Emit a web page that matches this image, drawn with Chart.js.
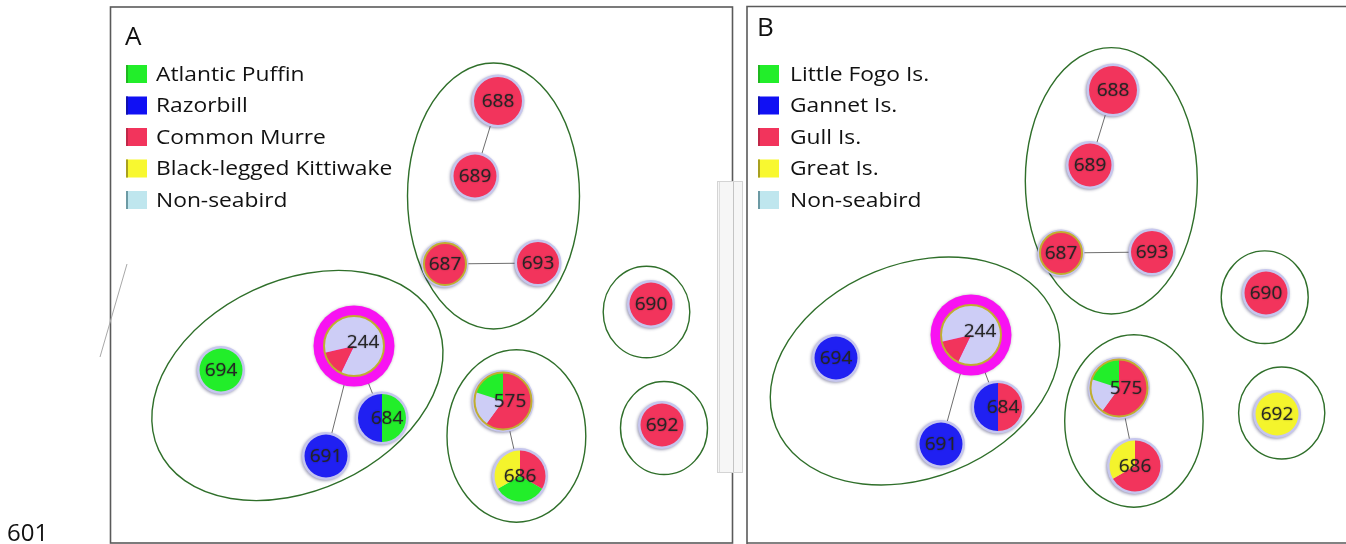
<!DOCTYPE html>
<html>
<head>
<meta charset="utf-8">
<script src="https://cdn.jsdelivr.net/npm/chart.js@4.4.1/dist/chart.umd.min.js"></script>
<style>
html,body{margin:0;padding:0;background:#fff;}
#wrap{width:1346px;height:544px;position:relative;}
canvas{display:block;}
</style>
</head>
<body>
<div id="wrap"><canvas id="c" width="1346" height="544"></canvas></div>
<script>
// ---------------- DATA ----------------
const nodeLabels = ['688','689','687','693','690','692','244','694','684','691','575','686'];
// node layout coordinates, panel A and panel B
const nodeXA = [498, 475, 445, 538, 651, 662, 354, 221, 382, 326, 503, 520];
const nodeYA = [101, 176, 264, 263, 304, 425, 346, 370, 418, 456, 401, 476];
const nodeXB = [1113, 1090, 1061, 1152, 1266, 1277, 971, 836, 998, 941, 1119, 1135];
const nodeYB = [90, 165, 253, 252, 293, 414, 335, 358, 407, 444, 388, 466];
// node size (radius, data units)
const nodeSize = [24, 21.5, 21, 21, 21.5, 21.5, 30, 21.5, 24, 21.5, 28.5, 25.5];

// categories
const speciesA = ['Atlantic Puffin', 'Razorbill', 'Common Murre', 'Black-legged Kittiwake', 'Non-seabird'];
const coloniesB = ['Little Fogo Is.', 'Gannet Is.', 'Gull Is.', 'Great Is.', 'Non-seabird'];

// pie slices per node: [categoryIndex, count], clockwise from 12 o'clock
const slicesA = [
  [[2,1]],                 // 688
  [[2,1]],                 // 689
  [[2,1]],                 // 687
  [[2,1]],                 // 693
  [[2,1]],                 // 690
  [[2,1]],                 // 692
  [[4,4],[2,1],[4,2]],     // 244
  [[0,1]],                 // 694
  [[0,1],[1,1]],           // 684
  [[1,1]],                 // 691
  [[2,3],[4,1],[0,1]],     // 575
  [[2,1],[0,1],[3,1]]      // 686
];
const slicesB = [
  [[2,1]],                 // 688
  [[2,1]],                 // 689
  [[2,1]],                 // 687
  [[2,1]],                 // 693
  [[2,1]],                 // 690
  [[3,1]],                 // 692
  [[4,4],[2,1],[4,2]],     // 244
  [[1,1]],                 // 694
  [[2,1],[1,1]],           // 684
  [[1,1]],                 // 691
  [[2,3],[4,1],[0,1]],     // 575
  [[2,2],[3,1]]            // 686
];
// network links (node index pairs)
const edges = [[0,1],[2,3],[6,9],[6,8],[10,11]];

// cluster ellipses
const clusterCxA = [493.5, 646.5, 664, 297.4, 516.4];
const clusterCyA = [196, 312, 428, 385.5, 436];
const clusterRxA = [86, 43.3, 43.5, 153, 69.4];
const clusterRyA = [133, 45.8, 46.5, 105, 86.2];
const clusterRotA = [0, 0, 0, -25, 0];
const clusterCxB = [1111.3, 1264.7, 1281.7, 915, 1133.9];
const clusterCyB = [180.8, 297.2, 413, 371, 421];
const clusterRxB = [86, 43.5, 43.1, 150, 69.2];
const clusterRyB = [133.2, 46.3, 46, 107, 86.2];
const clusterRotB = [0, 0, 0, -22, 0];

// ---------------- STYLE ----------------
const sliceColors = ['#22ee2a', '#2020f2', '#f2345c', '#f4f42c', '#cdcdf6'];
const legendColors = ['#22ee2a', '#1010f4', '#f2345c', '#f8f830', '#bfe6ee'];
const legendEdge = ['#1fb81f', '#1010b0', '#c02848', '#a8a020', '#6c9aa4'];
const FONT = '"Open Sans", "DejaVu Sans", sans-serif';
const hubNode = '244';
const oliveRim = ['687', '575', '244'];
const labelShift = {'244': [9, -4], '575': [7, 0], '684': [5, 0]};
const legendStretch = 1.14;

const panels = [
  {title:'A', tx:125, ty:45, names:speciesA, lx:126, textX:156, nx:nodeXA, ny:nodeYA, slices:slicesA,
   ecx:clusterCxA, ecy:clusterCyA, erx:clusterRxA, ery:clusterRyA, erot:clusterRotA},
  {title:'B', tx:757, ty:36, names:coloniesB, lx:758, textX:790, nx:nodeXB, ny:nodeYB, slices:slicesB,
   ecx:clusterCxB, ecy:clusterCyB, erx:clusterRxB, ery:clusterRyB, erot:clusterRotB}
];
const legendRowY = [74, 105.5, 137, 168.5, 200];

// edge datasets built from data
const datasets = [];
panels.forEach(p => {
  edges.forEach(e => {
    datasets.push({
      type: 'scatter', showLine: true,
      data: [{x:p.nx[e[0]], y:p.ny[e[0]]}, {x:p.nx[e[1]], y:p.ny[e[1]]}],
      borderColor: '#6e6e6e', borderWidth: 1, pointRadius: 0, pointHoverRadius: 0
    });
  });
});

const networkPlugin = {
  id: 'network',
  beforeDraw(chart) {
    const ctx = chart.ctx;
    ctx.save();
    ctx.fillStyle = '#fff';
    ctx.fillRect(0, 0, chart.width, chart.height);
    // panel frames
    ctx.strokeStyle = '#5a5a5a';
    ctx.lineWidth = 1.6;
    ctx.strokeRect(110.5, 7, 622, 536);
    ctx.beginPath();
    ctx.moveTo(747, 560); ctx.lineTo(747, 6.5); ctx.lineTo(1350, 6.5);
    ctx.moveTo(747, 543); ctx.lineTo(1350, 543);
    ctx.stroke();
    // stray mark left of panel A
    ctx.strokeStyle = '#a8a8a8'; ctx.lineWidth = 1;
    ctx.beginPath(); ctx.moveTo(127, 264); ctx.lineTo(100, 357); ctx.stroke();
    // figure number
    ctx.fillStyle = '#111';
    ctx.font = '24px ' + FONT;
    ctx.textBaseline = 'alphabetic';
    ctx.fillText('601', 7, 541);
    ctx.restore();
  },
  beforeDatasetsDraw(chart) {
    const ctx = chart.ctx, xs = chart.scales.x, ys = chart.scales.y;
    ctx.save();
    ctx.strokeStyle = '#2f6f2a';
    ctx.lineWidth = 1.4;
    panels.forEach(p => {
      p.ecx.forEach((cx, i) => {
        const px = xs.getPixelForValue(cx), py = ys.getPixelForValue(p.ecy[i]);
        const rx = Math.abs(xs.getPixelForValue(cx + p.erx[i]) - px);
        const ry = Math.abs(ys.getPixelForValue(p.ecy[i] + p.ery[i]) - py);
        ctx.beginPath();
        ctx.ellipse(px, py, rx, ry, p.erot[i] * Math.PI / 180, 0, Math.PI * 2);
        ctx.stroke();
      });
    });
    ctx.restore();
  },
  afterDatasetsDraw(chart) {
    const ctx = chart.ctx, xs = chart.scales.x, ys = chart.scales.y;
    panels.forEach(p => {
      nodeLabels.forEach((lab, i) => {
        const cx = xs.getPixelForValue(p.nx[i]), cy = ys.getPixelForValue(p.ny[i]);
        const r = Math.abs(xs.getPixelForValue(p.nx[i] + nodeSize[i]) - cx);
        ctx.save();
        if (lab === hubNode) {
          ctx.shadowColor = 'rgba(0,0,0,0.25)'; ctx.shadowBlur = 3;
          ctx.beginPath(); ctx.arc(cx, cy, r + 10.5, 0, Math.PI * 2);
          ctx.fillStyle = '#f812f2'; ctx.fill();
          ctx.shadowColor = 'transparent';
        } else {
          ctx.shadowColor = 'rgba(40,40,90,0.45)'; ctx.shadowBlur = 3;
          ctx.shadowOffsetX = -1; ctx.shadowOffsetY = 1;
          ctx.beginPath(); ctx.arc(cx, cy, r + 2.5, 0, Math.PI * 2);
          ctx.fillStyle = '#c6c6ee'; ctx.fill();
          ctx.shadowColor = 'transparent';
        }
        ctx.restore();
        // pie slices
        const sl = p.slices[i];
        const total = sl.reduce((s, v) => s + v[1], 0);
        let a = -Math.PI / 2;
        sl.forEach(s => {
          const a2 = a + s[1] / total * Math.PI * 2;
          ctx.beginPath();
          ctx.moveTo(cx, cy);
          ctx.arc(cx, cy, r, a, a2);
          ctx.closePath();
          ctx.fillStyle = sliceColors[s[0]];
          ctx.fill();
          a = a2;
        });
        if (oliveRim.includes(lab)) {
          ctx.beginPath(); ctx.arc(cx, cy, r, 0, Math.PI * 2);
          ctx.strokeStyle = '#c0ae30'; ctx.lineWidth = 2; ctx.stroke();
        }
        // label
        const sh = labelShift[lab] || [0, 0];
        ctx.save();
        ctx.font = '19px ' + FONT;
        ctx.textAlign = 'center'; ctx.textBaseline = 'middle';
        ctx.shadowColor = 'rgba(0,0,0,0.45)'; ctx.shadowBlur = 1.5;
        ctx.fillStyle = '#262626';
        ctx.fillText(lab, cx + sh[0], cy + sh[1] + 1);
        ctx.restore();
      });
      // panel letter and legend
      ctx.save();
      ctx.fillStyle = '#111';
      ctx.textBaseline = 'alphabetic';
      ctx.font = '26px ' + FONT;
      ctx.fillText(p.title, p.tx, p.ty);
      p.names.forEach((n, k) => {
        const y = legendRowY[k];
        ctx.fillStyle = legendColors[k];
        ctx.fillRect(p.lx, y - 9, 21, 18);
        ctx.fillStyle = legendEdge[k];
        ctx.fillRect(p.lx, y - 9, 2, 18);
        ctx.save();
        ctx.translate(p.textX, y + 1);
        ctx.scale(legendStretch, 1);
        ctx.font = '20px ' + FONT;
        ctx.fillStyle = '#111';
        ctx.textBaseline = 'middle';
        ctx.fillText(n, 0, 0);
        ctx.restore();
      });
      ctx.restore();
    });
    // grey bar overlay between panels
    ctx.save();
    ctx.fillStyle = '#f6f6f6';
    ctx.fillRect(717, 181, 26, 292);
    ctx.strokeStyle = '#d4d4d4'; ctx.lineWidth = 1;
    ctx.strokeRect(717.5, 181.5, 25, 291);
    ctx.strokeStyle = '#c4c4c4';
    ctx.beginPath(); ctx.moveTo(733.5, 182); ctx.lineTo(733.5, 472); ctx.stroke();
    ctx.strokeStyle = '#dcdcdc';
    ctx.beginPath(); ctx.moveTo(719.5, 182); ctx.lineTo(719.5, 472); ctx.stroke();
    ctx.restore();
  }
};

new Chart(document.getElementById('c'), {
  type: 'scatter',
  data: { datasets },
  options: {
    responsive: false,
    animation: false,
    events: [],
    layout: { padding: 0 },
    plugins: { legend: { display: false }, tooltip: { enabled: false } },
    scales: {
      x: { type: 'linear', min: 0, max: 1346, display: false },
      y: { type: 'linear', min: 0, max: 544, reverse: true, display: false }
    }
  },
  plugins: [networkPlugin]
});
</script>
</body>
</html>
